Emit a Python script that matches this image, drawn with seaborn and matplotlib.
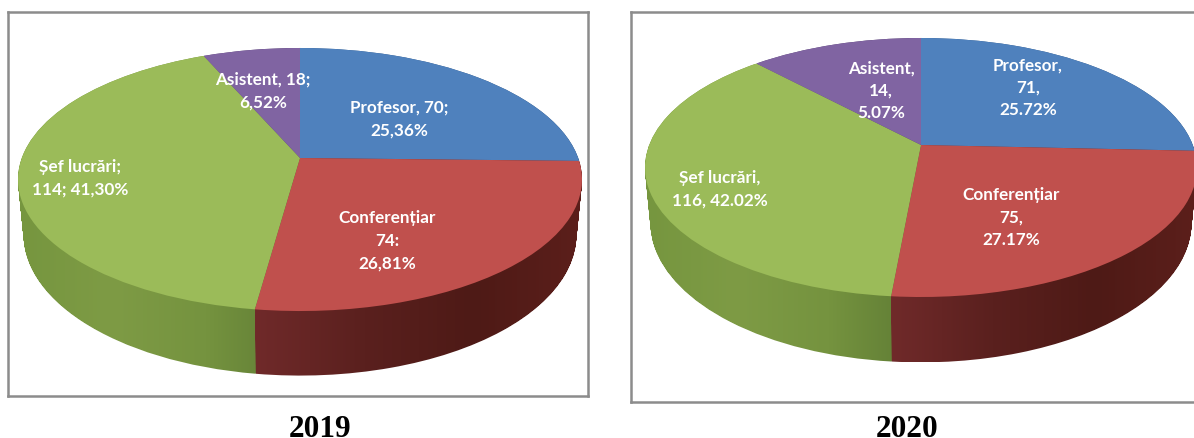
import numpy as np
import matplotlib
matplotlib.use("Agg")
import matplotlib.pyplot as plt
from matplotlib.colors import LinearSegmentedColormap
from matplotlib.path import Path
from matplotlib.transforms import Transform
import seaborn as sns

# Cadre didactice pe functii
categories = ["Profesor", "Conferențiar", "Șef lucrări", "Asistent"]
values_2019 = [70, 74, 114, 18]
# printed 2020 labels say 71, 75, 116, 14 but the slices in the picture are
# not that size (Asistent looks like ~12%), so these are read off the slices
slices_2020 = [71, 71, 101, 33]
labels_2019 = ["Profesor, 70;\n25,36%", "Conferențiar\n74:\n26,81%",
               "Șef lucrări;\n114; 41,30%", "Asistent, 18;\n6,52%"]
labels_2020 = ["Profesor,\n71,\n25.72%", "Conferențiar\n75,\n27.17%",
               "Șef lucrări,\n116, 42.02%", "Asistent,\n14,\n5.07%"]
years = ["2019", "2020"]

top_colors = ["#4f81bd", "#c0504d", "#9bbb59", "#8064a2"]
wall_colors = [["#39608f", "#2f5078"],
               ["#702a2a", "#5a201e", "#4e1a16", "#5c1f1b"],
               ["#76963f", "#7e9b45", "#75933f", "#5e7b34"],
               ["#5f4a7a", "#4f3d66"]]

W, H = 1194, 439


# pie on the floor, seen in perspective: unit circle -> figure pixels
class Tilted(Transform):
    input_dims = 2
    output_dims = 2

    def __init__(self, cx, cy, sx, sy, k, depth, z=0):
        super().__init__()
        self.p = (cx, cy, sx, sy, k, depth, z)

    def transform_non_affine(self, values):
        cx, cy, sx, sy, k, depth, z = self.p
        x, y = np.asarray(values).T
        w = 1 + k * y
        return np.column_stack([cx + sx * x / w * (1 - 0.02 * z),
                                cy - (sy * y - depth * z) / w])


def draw_panel(box, values, labels, label_xy, year, year_x, geom):
    x0, x1, y0, y1 = box
    ax = fig.add_axes([x0 / W, 1 - y1 / H, (x1 - x0) / W, (y1 - y0) / H])
    top = Tilted(*geom)
    wedges, _ = ax.pie(values, colors=palette, startangle=90, counterclock=False,
                       wedgeprops={"linewidth": 0})

    # side wall, back slices first
    for order, i in enumerate([3, 0, 2, 1]):
        layers = [Tilted(*geom, z=z).transform_path(wedges[i].get_path())
                  for z in np.linspace(0, 1, 60)]
        outline = Path.make_compound_path(*layers)
        ext = outline.get_extents()
        cmap = LinearSegmentedColormap.from_list("wall", wall_colors[i])
        im = ax.imshow(np.linspace(0, 1, 256)[None, :], cmap=cmap, aspect="auto",
                       extent=[ext.x0, ext.x1, ext.y1, ext.y0],
                       interpolation="bilinear", zorder=1 + order * 0.1)
        im.set_clip_path(outline, ax.transData)

    for w in wedges:
        w.set_transform(top + ax.transData)
        w.set_zorder(3)

    for text, (tx, ty) in zip(labels, label_xy):
        ax.text(tx, ty, text, color="white", fontsize=12.3, fontweight="bold",
                family="Lato", ha="center", va="center", linespacing=1.5, zorder=5)

    ax.set_aspect("auto")
    ax.set_xlim(x0, x1)
    ax.set_ylim(y1, y0)
    ax.set_frame_on(True)
    ax.set_xticks([])
    ax.set_yticks([])
    for s in ax.spines.values():
        s.set_visible(True)
        s.set_color("#8c8c8c")
        s.set_linewidth(1.8)
    if x1 >= W:
        ax.spines["right"].set_visible(False)

    fig.text(year_x / W, 1 - 437 / H, year, family="Liberation Serif", fontweight="bold",
             fontsize=22.5, ha="center", va="baseline", color="black")


sns.set_theme(style="white")
palette = sns.color_palette(top_colors)
fig = plt.figure(figsize=(W / 100, H / 100), dpi=100, facecolor="white")

draw_panel((8, 588, 13, 397), values_2019, labels_2019,
           [(399, 119), (387, 241), (80, 178), (263, 91)], years[0], 320,
           (300, 159, 278.2, 128, 0.1635, 54))
draw_panel((631, 1194, 13, 403), slices_2020, labels_2020,
           [(1028, 88), (1011, 218), (720, 189), (881, 91)], years[1], 907,
           (921, 146, 271.8, 125.6, 0.1737, 54))

fig.savefig("out.png", dpi=100)
